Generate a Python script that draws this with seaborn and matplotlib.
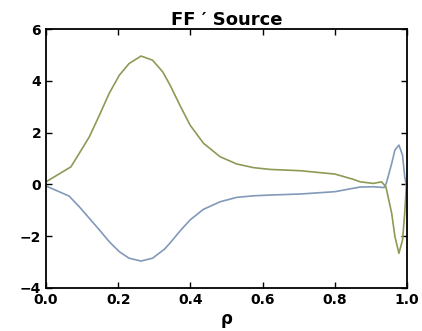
import numpy as np
import pandas as pd
import matplotlib
matplotlib.use("Agg")
import matplotlib.pyplot as plt
import seaborn as sns

# Values
rho_a = [0.0, 0.069, 0.092, 0.12, 0.148, 0.175, 0.203, 0.23, 0.263, 0.295,
         0.323, 0.343, 0.371, 0.399, 0.436, 0.482, 0.528, 0.574, 0.62, 0.704,
         0.8, 0.85, 0.87, 0.906, 0.929, 0.941, 0.957, 0.966, 0.977, 0.987,
         0.993, 0.998]
source_a = [0.1, 0.68, 1.2, 1.84, 2.68, 3.52, 4.22, 4.67, 4.96, 4.8,
            4.35, 3.85, 3.05, 2.29, 1.59, 1.07, 0.79, 0.65, 0.58, 0.53,
            0.4, 0.2, 0.1, 0.04, 0.1, -0.09, -1.12, -2.02, -2.66, -2.15,
            -1.12, 0.04]
rho_b = [0.0, 0.064, 0.092, 0.12, 0.148, 0.175, 0.203, 0.23, 0.263, 0.295,
         0.328, 0.343, 0.371, 0.399, 0.436, 0.482, 0.528, 0.574, 0.62, 0.704,
         0.8, 0.85, 0.87, 0.906, 0.936, 0.942, 0.957, 0.966, 0.977, 0.987,
         0.993, 0.998]
source_b = [-0.06, -0.45, -0.86, -1.31, -1.76, -2.21, -2.6, -2.85, -2.96, -2.85,
            -2.5, -2.27, -1.8, -1.37, -0.96, -0.67, -0.5, -0.44, -0.41, -0.37,
            -0.28, -0.15, -0.1, -0.09, -0.12, 0.04, 0.81, 1.33, 1.52, 1.13,
            0.3, -0.06]

BLUE = "#8299b9"
GREEN = "#8b9b55"

sns.set_style("ticks", {"xtick.direction": "in", "ytick.direction": "in",
                        "axes.edgecolor": "black", "text.color": "black",
                        "xtick.color": "black", "ytick.color": "black",
                        "axes.labelcolor": "black"})
plt.rcParams["font.family"] = ["DejaVu Sans"]
plt.rcParams["font.weight"] = "bold"

df = pd.concat([
    pd.DataFrame({"rho": rho_b, "val": source_b, "series": "b"}),
    pd.DataFrame({"rho": rho_a, "val": source_a, "series": "a"}),
])

fig = plt.figure(figsize=(4.22, 3.31), dpi=100)
ax = fig.add_axes([0.109, 0.130, 0.856, 0.782])
sns.lineplot(data=df, x="rho", y="val", hue="series", palette={"a": GREEN, "b": BLUE},
             legend=False, linewidth=1.2, sort=False, ax=ax)

ax.set_xlim(0, 1)
ax.set_ylim(-4, 6)
ax.set_xticks([0.0, 0.2, 0.4, 0.6, 0.8, 1.0])
ax.set_yticks([-4, -2, 0, 2, 4, 6])
ax.tick_params(axis="both", labelsize=10, width=1, length=4, top=True, right=True,
               colors="black")
for lab in ax.get_xticklabels() + ax.get_yticklabels():
    lab.set_fontweight("bold")
for sp in ax.spines.values():
    sp.set_linewidth(1.3)
    sp.set_color("black")
ax.set_xlabel("\u03c1", fontsize=12, fontweight="bold", labelpad=2)
ax.set_ylabel("")
ax.set_title("FF \u2032 Source", fontsize=13, fontweight="bold", pad=3)

fig.savefig("out.png", dpi=100)
